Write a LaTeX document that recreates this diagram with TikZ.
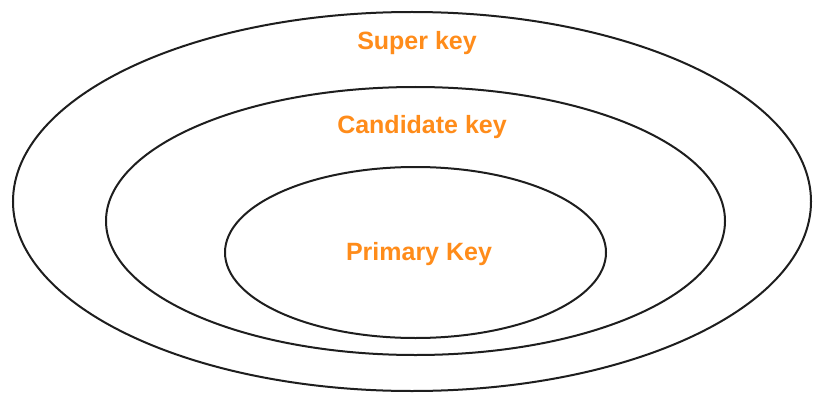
\documentclass[tikz,border=0pt]{standalone}
\usepackage{fontspec}
\setmainfont{Liberation Sans}
\usetikzlibrary{shapes.geometric}
\definecolor{keyorange}{RGB}{255,140,26}
\definecolor{ringline}{RGB}{30,30,30}
\begin{document}
\begin{tikzpicture}[x=1pt,y=-1pt,
  ring/.style={draw=ringline,line width=2pt,ellipse,inner sep=0pt},
  keylabel/.style={text=keyorange,font=\bfseries\fontsize{25}{30}\selectfont,inner sep=0pt}]
\useasboundingbox (0,0) rectangle (813,393);
\fill[white] (0,0) rectangle (813,393);
\node[ring,minimum width=798pt,minimum height=379pt] (super) at (412,201.5) {};
\node[ring,minimum width=619pt,minimum height=268pt] (cand) at (415.5,221) {};
\node[ring,minimum width=381pt,minimum height=171pt] (prim) at (415.5,252.5) {};
\node[keylabel] (tsuper) at (417,43) {Super key};
\node[keylabel] (tcand) at (422,127) {Candidate key};
\node[keylabel] (tprim) at (419,254) {Primary Key};
\end{tikzpicture}
\end{document}
